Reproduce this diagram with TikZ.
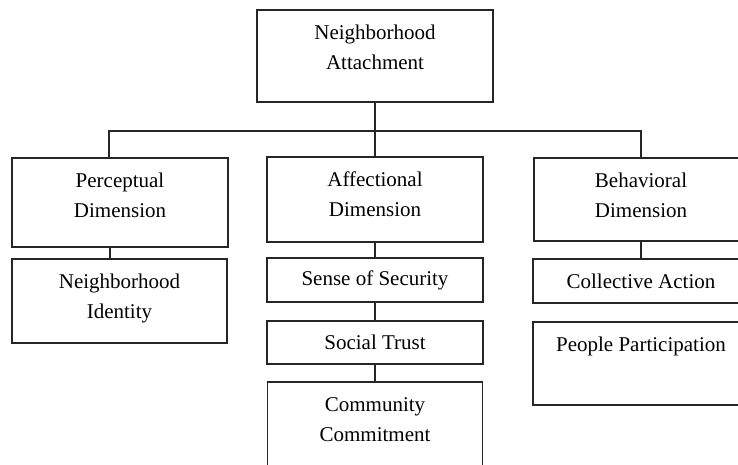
\documentclass[tikz,border=0pt]{standalone}
\usepackage{fontspec}
\setmainfont{Liberation Serif}
\newcommand\topbox[3]{\parbox[c][#2][t]{#1}{\centering\rule{0pt}{29pt}#3}}
\begin{document}
\begin{tikzpicture}[x=1pt,y=-1pt, line width=1.1pt,
  box/.style={draw=black!85, inner sep=0pt, font=\fontsize{21}{30}\selectfont},
  onebox/.style={box, minimum width=216pt, minimum height=44pt},
  link/.style={draw=black!85}]
\useasboundingbox (0,0) rectangle (738,464);
\clip (0,0) rectangle (738,464);
\node[box] (top) at (375,56) {\topbox{236pt}{92pt}{Neighborhood\\Attachment}};
\node[box] (perc) at (120,202.5) {\topbox{216pt}{89pt}{Perceptual\\Dimension}};
\node[box] (nid) at (119.5,301) {\topbox{215pt}{84pt}{Neighborhood\\Identity}};
\node[box] (aff) at (375,199.5) {\topbox{216pt}{85pt}{Affectional\\Dimension}};
\node[onebox] (sos) at (375,280) {Sense of Security};
\node[onebox, minimum height=43pt] (st) at (375,342.5) {Social Trust};
\node[box] (cc) at (375,425) {\topbox{215pt}{86pt}{Community\\Commitment}};
\node[box] (beh) at (641,199.5) {\topbox{214pt}{83pt}{Behavioral\\Dimension}};
\node[onebox] (ca) at (641,281) {Collective Action};
\node[box] (pp) at (641,363.5) {\topbox{216pt}{83pt}{People Participation}};
\coordinate (bus) at (375,131);
\draw[link] (top) -- (aff);
\draw[link] ([xshift=-11pt]perc.north) |- (bus) -| (beh.north);
\draw[link] ([xshift=-10pt]perc.south) -- ([xshift=-10pt]perc.south |- nid.north);
\draw[link] (aff) -- (sos);
\draw[link] (sos) -- (st);
\draw[link] (st) -- (cc);
\draw[link] (beh) -- (ca);
\end{tikzpicture}
\end{document}
